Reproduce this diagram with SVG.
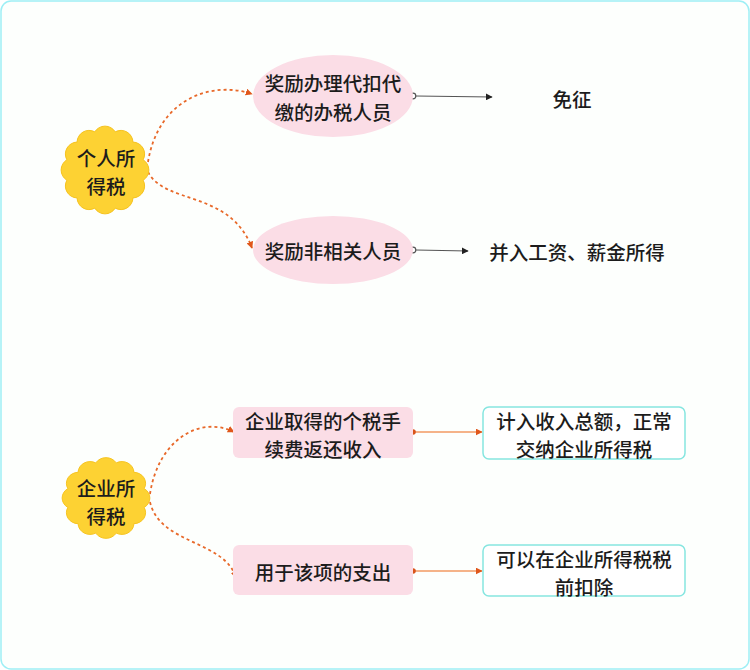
<svg xmlns="http://www.w3.org/2000/svg" width="750" height="670" viewBox="0 0 750 670">
<defs>
<style>
.t{font-family:"Noto Sans CJK SC","Noto Sans",sans-serif;font-size:19.5px;fill:#1c1c1c;text-anchor:middle;dominant-baseline:central;font-weight:500}
.dash{fill:none;stroke:#E8692A;stroke-width:1.8;stroke-dasharray:3 3}
.pink{fill:#FBDDE6}
.flower{fill:#FDD233;stroke:#F6C21C;stroke-width:1}
.gray{stroke:#555;stroke-width:1.2;fill:none}
.org{stroke:#F29A62;stroke-width:1.3;fill:none}
</style>
<marker id="ao" viewBox="0 0 10 10" refX="9" refY="5" markerWidth="7" markerHeight="7" orient="auto" markerUnits="userSpaceOnUse"><path d="M0,0 L10,5 L0,10 z" fill="#E0571B"/></marker>
<marker id="ab" viewBox="0 0 10 10" refX="9" refY="5" markerWidth="7" markerHeight="7" orient="auto" markerUnits="userSpaceOnUse"><path d="M0,0 L10,5 L0,10 z" fill="#222"/></marker>
<path id="fl" d="M10.22,-38.15 A12,12 0 0 1 27.93,-27.93 A12,12 0 0 1 38.15,-10.22 A12,12 0 0 1 38.15,10.22 A12,12 0 0 1 27.93,27.93 A12,12 0 0 1 10.22,38.15 A12,12 0 0 1 -10.22,38.15 A12,12 0 0 1 -27.93,27.93 A12,12 0 0 1 -38.15,10.22 A12,12 0 0 1 -38.15,-10.22 A12,12 0 0 1 -27.93,-27.93 A12,12 0 0 1 -10.22,-38.15 A12,12 0 0 1 10.22,-38.15 Z"/>
</defs>
<rect x="1" y="1" width="748" height="668" rx="10" fill="#FDFFFD" stroke="#9EEFF5" stroke-width="1.5"/>
<g id="connectors">
<path class="dash" d="M148,162 C158,100 210,80 252,94" marker-end="url(#ao)"/>
<path class="dash" d="M148,172 C165,205 230,190 252,248" marker-end="url(#ao)"/>
<path class="dash" d="M150,494 C158,440 200,415 234,432" marker-end="url(#ao)"/>
<path class="dash" d="M150,502 C160,545 225,540 236,578" marker-end="url(#ao)"/>
<path class="gray" d="M416,96 L492,97" marker-end="url(#ab)"/>
<circle cx="413" cy="96" r="2.8" fill="#fff" stroke="#555" stroke-width="1.2"/>
<path class="gray" d="M416,250 L468,251" marker-end="url(#ab)"/>
<circle cx="413" cy="250" r="2.8" fill="#fff" stroke="#555" stroke-width="1.2"/>
<path class="org" d="M413,432 L482,432" marker-end="url(#ao)"/>
<circle cx="413" cy="432" r="2.8" fill="#D9541A"/>
<path class="org" d="M413,571 L482,571" marker-end="url(#ao)"/>
<circle cx="413" cy="571" r="2.8" fill="#D9541A"/>
</g>
<g id="n1">
<use href="#fl" class="flower" transform="translate(105,170)"/>
<text class="t" x="106" y="157">个人所</text>
<text class="t" x="106" y="185">得税</text>
</g>
<g id="n2">
<ellipse class="pink" cx="333" cy="96" rx="80" ry="41"/>
<text class="t" x="333" y="82">奖励办理代扣代</text>
<text class="t" x="333" y="111">缴的办税人员</text>
</g>
<g id="n3">
<ellipse class="pink" cx="333" cy="250" rx="80" ry="34"/>
<text class="t" x="333" y="250">奖励非相关人员</text>
</g>
<g id="n4">
<text class="t" x="572" y="98">免征</text>
</g>
<g id="n5">
<text class="t" x="577" y="251">并入工资、薪金所得</text>
</g>
<g id="n6">
<use href="#fl" class="flower" transform="translate(106,498) scale(1,0.92)"/>
<text class="t" x="106" y="487">企业所</text>
<text class="t" x="106" y="515">得税</text>
</g>
<g id="n7">
<rect class="pink" x="233" y="407" width="180" height="51" rx="6"/>
<text class="t" x="323" y="420">企业取得的个税手</text>
<text class="t" x="323" y="448">续费返还收入</text>
</g>
<g id="n8">
<rect class="pink" x="233" y="545" width="180" height="50" rx="6"/>
<text class="t" x="323" y="571">用于该项的支出</text>
</g>
<g id="n9">
<rect x="483" y="407" width="202" height="52" rx="6" fill="#fff" stroke="#86E6E0" stroke-width="1.5"/>
<text class="t" x="584" y="420">计入收入总额，正常</text>
<text class="t" x="584" y="448">交纳企业所得税</text>
</g>
<g id="n10">
<rect x="483" y="545" width="202" height="51" rx="6" fill="#fff" stroke="#86E6E0" stroke-width="1.5"/>
<text class="t" x="584" y="558">可以在企业所得税税</text>
<text class="t" x="584" y="586">前扣除</text>
</g>
</svg>
